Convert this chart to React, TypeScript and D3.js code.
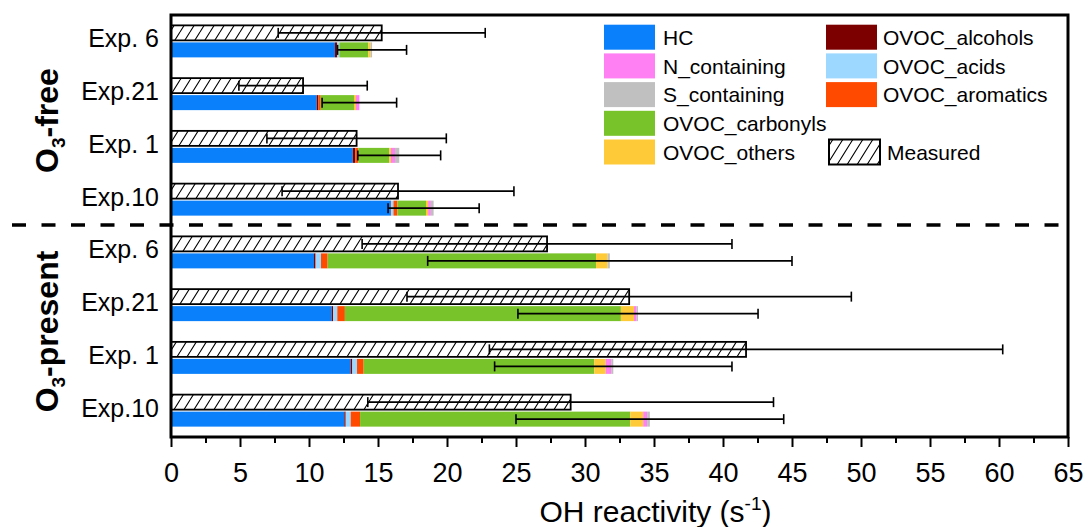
import React, { useEffect, useRef } from 'react'
import * as d3 from 'd3'

const width = 1088
const height = 527
const frame = { left: 171, right: 1068, top: 15, bottom: 437 }
const font = '"Liberation Sans", Arial, Helvetica, sans-serif'

// rows from top to bottom: O3-free first, then O3-present
const rowLabels = ['Exp. 6', 'Exp.21', 'Exp. 1', 'Exp.10', 'Exp. 6', 'Exp.21', 'Exp. 1', 'Exp.10']
const xTicks = [0, 5, 10, 15, 20, 25, 30, 35, 40, 45, 50, 55, 60, 65]

// calculated OH reactivity per class (s-1)
const HC = [11.88, 10.56, 13.17, 15.92, 10.36, 11.64, 13.02, 12.56]
const OVOC_alcohols = [0.17, 0.12, 0.19, 0.03, 0.12, 0.10, 0.12, 0.10]
const OVOC_acids = [0.15, 0, 0, 0.17, 0.39, 0.31, 0.34, 0.36]
const OVOC_aromatics = [0, 0.17, 0.21, 0.29, 0.48, 0.55, 0.48, 0.68]
const OVOC_carbonyls = [2.10, 2.41, 2.25, 2.07, 19.45, 20.0, 16.71, 19.58]
const OVOC_others = [0.17, 0.14, 0.12, 0.15, 0.84, 0.95, 0.83, 0.94]
const N_containing = [0, 0.25, 0.29, 0.20, 0, 0.19, 0.40, 0.28]
const S_containing = [0.10, 0, 0.31, 0.20, 0.16, 0.10, 0.15, 0.20]
const calcErr = [2.5, 2.7, 3.0, 3.3, 13.2, 8.7, 8.6, 9.7]

// measured OH reactivity
const measured = [15.27, 9.57, 13.45, 16.45, 27.25, 33.2, 41.67, 28.96]
const measuredErr = [7.5, 4.65, 6.5, 8.4, 13.4, 16.1, 18.6, 14.7]

const keys = ['HC', 'OVOC_alcohols', 'OVOC_acids', 'OVOC_aromatics', 'OVOC_carbonyls', 'OVOC_others', 'N_containing', 'S_containing']
const values: Record<string, number[]> = { HC, OVOC_alcohols, OVOC_acids, OVOC_aromatics, OVOC_carbonyls, OVOC_others, N_containing, S_containing }
const colors: Record<string, string> = {
    HC: '#0A80FA',
    OVOC_alcohols: '#7D0000',
    OVOC_acids: '#9CD8FF',
    OVOC_aromatics: '#FF4A00',
    OVOC_carbonyls: '#79C32A',
    OVOC_others: '#FFCA38',
    N_containing: '#FF80F2',
    S_containing: '#C0C0C0',
}

const legendLeft = ['HC', 'N_containing', 'S_containing', 'OVOC_carbonyls', 'OVOC_others']
const legendRight = ['OVOC_alcohols', 'OVOC_acids', 'OVOC_aromatics']

export default function App() {
    const ref = useRef<SVGSVGElement>(null)

    useEffect(() => {
        const svg = d3.select(ref.current)
        svg.selectAll('*').remove()

        const x = d3.scaleLinear().domain([0, 65]).range([frame.left, frame.right])
        const y = d3.scaleBand<number>().domain(d3.range(rowLabels.length)).range([frame.top, frame.bottom])
        const barH = 15
        const off = (y.bandwidth() - 2 * barH - 2) / 2

        const defs = svg.append('defs')
        const pat = defs.append('pattern')
            .attr('id', 'hatch')
            .attr('patternUnits', 'userSpaceOnUse')
            .attr('width', 10)
            .attr('height', 16)
        pat.append('rect').attr('width', 10).attr('height', 16).attr('fill', 'white')
        pat.append('path')
            .attr('d', 'M0,16 L10,0 M-10,16 L0,0 M10,16 L20,0')
            .attr('stroke', 'black')
            .attr('stroke-width', 1.1)

        const table = rowLabels.map((_, i) => {
            const row: any = { i }
            keys.forEach(k => { row[k] = values[k][i] })
            return row
        })
        const series = d3.stack().keys(keys)(table)

        // measured (hatched) bars
        svg.append('g').selectAll('rect')
            .data(measured)
            .join('rect')
            .attr('x', x(0))
            .attr('y', (d, i) => (y(i) as number) + off)
            .attr('width', d => x(d) - x(0))
            .attr('height', barH)
            .attr('fill', 'url(#hatch)')
            .attr('stroke', 'black')
            .attr('stroke-width', 1.8)

        // stacked calculated bars
        svg.append('g').selectAll('g')
            .data(series)
            .join('g')
            .attr('fill', d => colors[d.key])
            .selectAll('rect')
            .data(d => d)
            .join('rect')
            .attr('x', d => x(d[0]))
            .attr('y', (d, i) => (y(i) as number) + off + barH + 2)
            .attr('width', d => Math.max(0, x(d[1]) - x(d[0])))
            .attr('height', barH)

        const totals = rowLabels.map((_, i) => d3.sum(keys, k => values[k][i]))

        const errBars = (vals: number[], errs: number[], dy: number) => {
            const g = svg.append('g').attr('stroke', 'black').attr('stroke-width', 1.6)
            vals.forEach((v, i) => {
                const yc = (y(i) as number) + off + dy + barH / 2
                const x1 = x(v - errs[i])
                const x2 = x(v + errs[i])
                g.append('line').attr('x1', x1).attr('x2', x2).attr('y1', yc).attr('y2', yc)
                g.append('line').attr('x1', x1).attr('x2', x1).attr('y1', yc - 5).attr('y2', yc + 5)
                g.append('line').attr('x1', x2).attr('x2', x2).attr('y1', yc - 5).attr('y2', yc + 5)
            })
        }
        errBars(measured, measuredErr, 0)
        errBars(totals, calcErr, barH + 2)

        // frame
        svg.append('rect')
            .attr('x', frame.left).attr('y', frame.top)
            .attr('width', frame.right - frame.left).attr('height', frame.bottom - frame.top)
            .attr('fill', 'none').attr('stroke', 'black').attr('stroke-width', 3)

        // x axis
        const xAxis = d3.axisBottom(x).tickValues(xTicks).tickSize(10).tickPadding(16)
        const gx = svg.append('g').attr('transform', `translate(0, ${frame.bottom})`).call(xAxis)
        gx.select('.domain').remove()
        gx.selectAll('line').attr('stroke-width', 2)
        gx.selectAll('text').attr('font-size', 27).attr('font-family', font).attr('fill', 'black')

        const minor = d3.axisBottom(x).tickValues(xTicks.slice(0, -1).map(t => t + 2.5)).tickSize(6).tickFormat(() => '')
        const gm = svg.append('g').attr('transform', `translate(0, ${frame.bottom})`).call(minor)
        gm.select('.domain').remove()
        gm.selectAll('line').attr('stroke-width', 2)

        svg.append('text')
            .attr('x', (frame.left + frame.right) / 2 + 36)
            .attr('y', 522)
            .attr('text-anchor', 'middle')
            .attr('font-family', font)
            .attr('font-size', 30)
            .call(t => {
                t.append('tspan').text('OH reactivity (s')
                t.append('tspan').attr('font-size', 19).attr('dy', -12).text('-1')
                t.append('tspan').attr('dy', 12).text(')')
            })

        // row labels
        svg.append('g').selectAll('text')
            .data(rowLabels)
            .join('text')
            .attr('x', 159)
            .attr('y', (d, i) => (y(i) as number) + y.bandwidth() / 2 + 6)
            .attr('text-anchor', 'end')
            .attr('font-family', font)
            .attr('font-size', 25)
            .text(d => d)

        // separator between the two conditions
        svg.append('line')
            .attr('x1', 12).attr('x2', frame.right)
            .attr('y1', (y(4) as number) - 1).attr('y2', (y(4) as number) - 1)
            .attr('stroke', 'black').attr('stroke-width', 3.5)
            .attr('stroke-dasharray', '14,15.5')

        const groupLabel = (name: string, cy: number) => {
            svg.append('text')
                .attr('transform', `translate(58, ${cy}) rotate(-90)`)
                .attr('text-anchor', 'middle')
                .attr('font-family', font)
                .attr('font-weight', 'bold')
                .attr('font-size', 32)
                .call(t => {
                    t.append('tspan').text('O')
                    t.append('tspan').attr('font-size', 19).attr('dy', 7).text('3')
                    t.append('tspan').attr('dy', -7).text(name)
                })
        }
        const mid = (a: number, b: number) => ((y(a) as number) + (y(b) as number) + y.bandwidth()) / 2
        groupLabel('-free', mid(0, 3))
        groupLabel('-present', mid(4, 7))

        // legend
        const lg = svg.append('g').attr('font-family', font).attr('font-size', 21)
        const rowY = (r: number) => 24.7 + r * 28.7
        const item = (sx: number, tx: number, r: number, fill: string, label: string, stroke?: string) => {
            lg.append('rect')
                .attr('x', sx).attr('y', rowY(r))
                .attr('width', 51).attr('height', 25)
                .attr('fill', fill)
                .attr('stroke', stroke || 'none')
                .attr('stroke-width', 2)
            lg.append('text')
                .attr('x', tx).attr('y', rowY(r) + 12.5 + 7.6)
                .text(label)
        }
        legendLeft.forEach((k, r) => item(604, 663, r, colors[k], k))
        legendRight.forEach((k, r) => item(826, 883, r, colors[k], k))
        item(829, 887, 4, 'url(#hatch)', 'Measured', 'black')
    }, [])

    return (
        <div style={{ position: 'absolute', left: 0, top: 0 }}>
            <svg ref={ref} width={width} height={height} style={{ display: 'block', background: 'white' }} />
        </div>
    )
}
